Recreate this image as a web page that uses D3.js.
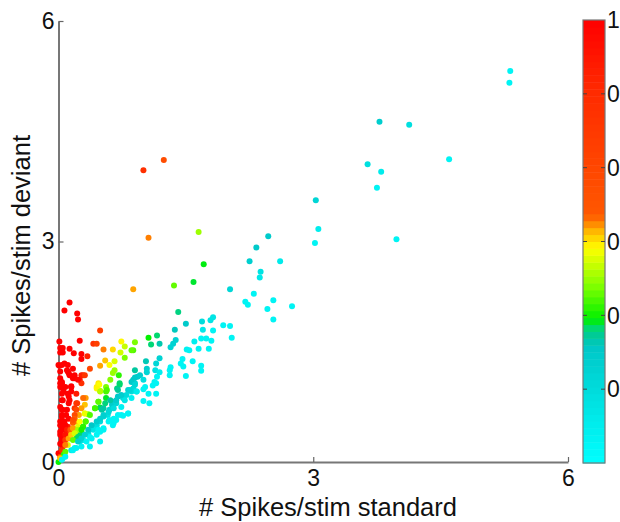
<!DOCTYPE html>
<html><head><meta charset="utf-8">
<style>html,body{margin:0;background:#fff}svg{display:block}text{font-family:"Liberation Sans",Arial,sans-serif;fill:#111}</style>
<script src="https://cdn.jsdelivr.net/npm/d3@7"></script></head><body>
<svg id="c" width="620" height="522"></svg>
<script>
// each pair: [spikes/stim standard, spikes/stim deviant]
const sparsePoints=[[5.32,5.32],[5.31,5.16],[3.78,4.63],[4.13,4.59],[3.64,4.05],[4.6,4.12],[3.8,3.95],[3.75,3.73],[3.98,3.03],[1,3.97],[1.24,4.11],[3.03,3.56],[3.06,3.17],[3.02,2.98],[1.06,3.05],[1.65,3.13],[1.71,2.69],[1.36,2.4],[1.59,2.45],[.88,2.35],[2.47,3.07],[2.33,2.92],[2.25,2.73],[2.61,2.73],[2.38,2.59],[2.37,2.51],[2.02,2.35],[2.3,2.29],[2.53,2.2],[2.2,2.18],[2.23,2.14],[2.75,2.12],[2.46,2.08],[2.53,1.94],[1.94,1.86],[2.02,1.85],[2.04,1.69]];
const upperBand=[[1.41,2.04],[1.37,1.8],[1.5,1.88],[1.69,1.91],[1.79,1.93],[1.82,1.97],[1.7,1.8],[1.82,1.79],[1.68,1.68],[1.74,1.68],[1.8,1.65],[1.6,1.64],[1.38,1.66],[1.35,1.61],[1.32,1.56],[1.51,1.53],[1.54,1.52],[1.65,1.54],[1.77,1.54],[1.46,1.4],[1.58,1.37],[1.44,1.34],[1.47,1.3],[1.68,1.31],[1.68,1.24],[1.32,1.29],[1.31,1.18],[1.5,1.17],[1.03,1.37],[1.19,1.41],[1.15,1.34],[1.14,1.25],[1.04,1.27],[1.04,1.22],[.9,1.25],[.9,1.15],[.88,1.12],[.93,1.16],[.96,1.18],[1,1.12],[1.02,1.02],[1,.99],[1.11,1.04],[1.19,1.22],[1.16,1.16],[1.13,1.09],[1.15,.93],[1.06,.93],[1,.83],[1.07,.8],[.9,1.07],[.86,1.09],[.92,.96],[.88,1],[.86,.87],[1.15,1.07],[1.31,1.25]];
const midArc=[[.53,1.53],[.64,1.53],[.74,1.64],[.78,1.57],[.73,1.49],[.78,1.42],[.88,1.52],[.86,1.52],[.9,1.63],[1.06,1.69],[1.16,1.72],[1.09,1.6],[1.19,1.61],[.49,1.31],[.55,1.38],[.6,1.32],[.66,1.37],[.66,1.25],[.64,1.21],[.61,1.12],[.71,1.18],[.47,1.07],[.45,1.02],[.49,.97],[.56,1.02],[.56,.96],[.69,1],[.72,1.05],[.47,.82],[.56,.87],[.43,.73],[.49,.74],[.31,.66],[.35,.65],[.32,.87],[.37,1.27],[.49,1.79],[.41,1.61],[.45,1.61]];
const lowerCluster=[[.86,.96],[.82,.98],[.8,.91],[.76,.87],[.7,.89],[.66,.82],[.63,.78],[.68,.8],[.74,.75],[.78,.84],[.82,.66],[.76,.63],[.7,.64],[.6,.71],[.58,.64],[.53,.62],[.49,.55],[.45,.5],[.41,.44],[.64,.5],[.6,.57],[.53,.44],[.47,.44],[.35,.39],[.37,.34],[.29,.3],[.25,.28],[.19,.19],[.15,.16],[.27,.41]];
const nearAxis=[[.13,2.17],[.07,2.06],[.22,2.02],[.23,1.94],[.25,1.65],[.01,1.64],[.02,1.55],[.05,1.55],[.13,1.54],[.02,1.49],[.05,1.49],[.27,1.47],[.34,1.44],[.18,1.48],[.27,1.4],[.01,1.31],[.07,1.34],[.11,1.32],[.02,1.23],[.11,1.23],[.13,1.18],[.19,1.14],[.02,1.14],[.29,1.18],[.25,1.12],[.04,1.07],[.05,1],[.15,1.02],[.04,.93],[.11,.93],[.13,.84],[.22,.8],[.19,.73],[.05,.84],[.24,.64],[.21,.55],[.17,.53],[.02,.75],[.05,.71],[.09,.64],[.04,.64],[.02,.55],[.07,.55],[.04,.48],[.02,.41],[.07,.44],[.13,.39],[.04,.34],[.07,.3],[.02,.25],[.11,.48],[.23,.48],[.19,.41],[.32,.55],[.29,.48],[.25,.37],[.21,.32],[.11,.23],[.05,.21],[.04,.16],[0,.12],[.07,.1],[.02,.07],[.05,.05],[0,0],[0,1.32],[.04,1.32],[.1,1.25],[.12,1.21],[.17,1.27],[.19,1.18],[.17,1.14],[.27,1.18],[.31,1.18],[.02,1.07],[.15,1.03]];
const redCorner=[[.04,1.09],[.02,1.02],[.08,1.02],[.15,1.02],[.27,1.07],[.23,1.12],[.06,.96],[.15,.96],[.12,.89],[.21,.93],[.04,.84],[.12,.8],[.21,.8],[.29,.87],[.31,.78],[.27,.73],[.21,.71],[.19,.64],[.04,.71],[.1,.71],[.04,.62],[.12,.59],[.19,.59],[.17,.57],[.06,.55],[.02,.5],[.08,.5],[.04,.44],[.1,.44],[.02,.37],[.08,.37],[.14,.44],[.17,.46],[.04,.3],[.08,.3],[.12,.32],[.15,.37],[.04,.23],[.08,.23],[.04,.16],[.06,.1],[.02,.05]];
const greenCorner=[[.48,1.05],[.45,1],[.49,.96],[.31,.66],[.37,.64],[.43,.73],[.47,.82],[.51,.71],[.25,.55],[.32,.55],[.29,.48],[.23,.44],[.27,.44],[.19,.39],[.23,.34],[.17,.3],[.08,.14],[.57,.98],[.72,1.07],[.7,.98],[.53,.73],[.55,.8]];
const cyanCorner=[[.61,.84],[.68,.84],[.74,.91],[.84,.98],[.9,1.05],[.92,.96],[.65,.73],[.59,.68],[.53,.64],[.49,.59],[.45,.55],[.39,.5],[.35,.44],[.31,.37],[.27,.32],[.23,.28],[.82,.66],[.74,.64],[.65,.59],[.68,.57],[.59,.55],[.65,.53],[.53,.46],[.49,.41],[.45,.37],[.39,.32],[.33,.28],[.49,.28],[.37,.21],[.27,.21],[.21,.19],[.17,.16],[.08,.07],[.04,.03]];
const axisTicks=[0,3,6];
const barTicks=[1/6,2/6,3/6,4/6,5/6,1];
const barTickLabels=["0","0","0","0","0","1"];
const colorStops=[0,.26,.285,.305,.325,.4,.485,.52,.56,.84,1];
const colorValues=["#00ffff","#00c8c8","#00c8a0","#00d870","#00f000","#80ff00","#ffff00","#ffc000","#ff5800","#ff2a00","#ff0000"];
const indexIn=[0,.2,.37,.55,.68,.8,1];
const indexOut=[.05,.25,.325,.49,.56,1,1];
const xLabel="# Spikes/stim standard", yLabel="# Spikes/stim deviant";

const svg=d3.select("#c");
const x=d3.scaleLinear([0,6],[58.5,568]);
const y=d3.scaleLinear([0,6],[462,21]);
const bar=d3.scaleLinear([0,1],[463,20]);
const color=d3.scaleLinear(colorStops,colorValues).interpolate(d3.interpolateRgb).clamp(true);
const indexMap=d3.scaleLinear(indexIn,indexOut).clamp(true);
const index=d=>d[1]>0?indexMap(1-d[0]/d[1]):.33;
const points=[].concat(sparsePoints,upperBand,midArc,lowerCluster,nearAxis,redCorner,greenCorner,cyanCorner);

function styleAxis(g){g.select(".domain").attr("stroke","#777").attr("stroke-width",2);
 g.selectAll(".tick line").attr("stroke","#666").attr("stroke-width",1.2);
 g.selectAll("text").style("font-size","23px").style("fill","#111");}
svg.append("g").attr("transform","translate(0,462)")
 .call(d3.axisBottom(x).tickValues(axisTicks).tickSize(-5).tickSizeOuter(0).tickPadding(8).tickFormat(d3.format("d"))).call(styleAxis);
svg.append("g").attr("transform","translate(58.5,0)")
 .call(d3.axisLeft(y).tickValues(axisTicks).tickSize(-5).tickSizeOuter(0).tickPadding(4).tickFormat(d3.format("d"))).call(styleAxis);

svg.append("g").selectAll("circle").data(points).join("circle")
 .attr("cx",d=>x(d[0])).attr("cy",d=>y(d[1])).attr("r",3).attr("fill",d=>color(index(d)));

const levels=d3.range(64).map(i=>i/64);
svg.append("g").selectAll("rect").data(levels).join("rect")
 .attr("x",583).attr("width",22).attr("y",d=>bar(d+1/64)).attr("height",bar(0)-bar(1/64)+.5)
 .attr("fill",d=>color(d+1/128));
svg.append("rect").attr("x",583).attr("y",20).attr("width",22).attr("height",443).attr("fill","none").attr("stroke","#777").attr("stroke-width",1.2);
const tg=svg.append("g").selectAll("g").data(barTicks).join("g").attr("transform",d=>`translate(0,${bar(d)})`);
tg.filter(d=>d<1).append("path").attr("d","M583,0h4M601,0h4").attr("stroke","#444").attr("stroke-width",1);
tg.append("text").attr("x",607).attr("dy","0.36em").style("font-size","23px").text((d,i)=>barTickLabels[i]);

svg.append("text").attr("x",328).attr("y",516).attr("text-anchor","middle").style("font-size","25.5px").text(xLabel);
svg.append("text").attr("transform","translate(30,255.5) rotate(-90)").attr("text-anchor","middle").style("font-size","25.5px").text(yLabel);
</script></body></html>
